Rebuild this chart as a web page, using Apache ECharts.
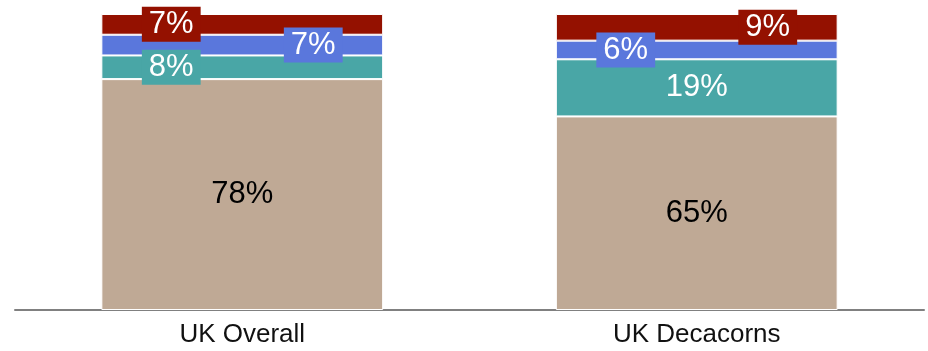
<!DOCTYPE html>
<html>
<head>
<meta charset="utf-8">
<script src="https://cdn.jsdelivr.net/npm/echarts@6/dist/echarts.min.js"></script>
<style>html,body{margin:0;padding:0;background:#fff}#c{width:928px;height:351px}</style>
</head>
<body>
<div id="c"></div>
<script>
const categories = ['UK Overall', 'UK Decacorns'];
const seriesNames = ['Segment 1', 'Segment 2', 'Segment 3', 'Segment 4'];
const seg1 = [78, 65.4];
const seg2 = [8, 19.3];
const seg3 = [7, 6.3];
const seg4 = [7, 9.0];

const colors = ['#BFA995', '#49A6A6', '#5A77DC', '#941100'];
const OFF = 71;
const FS = 31;

function boxLabel(color, dx) {
  return {
    show: true, position: 'inside', offset: [dx, 0],
    color: '#fff', backgroundColor: color,
    padding: [2, 7, 2, 7], fontSize: FS, lineHeight: 31
  };
}
function plainLabel(textColor) {
  return { show: true, position: 'inside', color: textColor, fontSize: FS, backgroundColor: 'transparent', padding: 0 };
}

const values = [seg1, seg2, seg3, seg4];
const labelSpecs = [
  [plainLabel('#000'), plainLabel('#000')],
  [boxLabel(colors[1], -OFF), plainLabel('#fff')],
  [boxLabel(colors[2], OFF), boxLabel(colors[2], -OFF)],
  [boxLabel(colors[3], -OFF), boxLabel(colors[3], OFF)]
];

const series = values.map((arr, i) => ({
  name: seriesNames[i],
  type: 'bar',
  stack: 'total',
  barCategoryGap: '38%',
  itemStyle: { color: colors[i], borderColor: '#fff', borderWidth: 1 },
  label: {
    show: true,
    fontFamily: 'Liberation Sans, Arial, sans-serif',
    formatter: p => Math.round(p.value) + '%'
  },
  emphasis: { disabled: true },
  data: arr.map((v, j) => ({ value: v, label: labelSpecs[i][j] }))
}));

const chart = echarts.init(document.getElementById('c'), null, { renderer: 'canvas' });
chart.setOption({
  animation: false,
  textStyle: { fontFamily: 'Liberation Sans, Arial, sans-serif' },
  grid: { left: 15, right: 4, top: 14, bottom: 41 },
  xAxis: {
    type: 'category', data: categories,
    axisLine: { lineStyle: { color: '#808080', width: 2 } },
    axisTick: { show: false },
    axisLabel: { color: '#111', fontSize: 26, margin: 12, fontFamily: 'Liberation Sans, Arial, sans-serif' }
  },
  yAxis: { type: 'value', min: 0, max: 100, show: false, splitLine: { show: false } },
  series: series
});
</script>
</body>
</html>
